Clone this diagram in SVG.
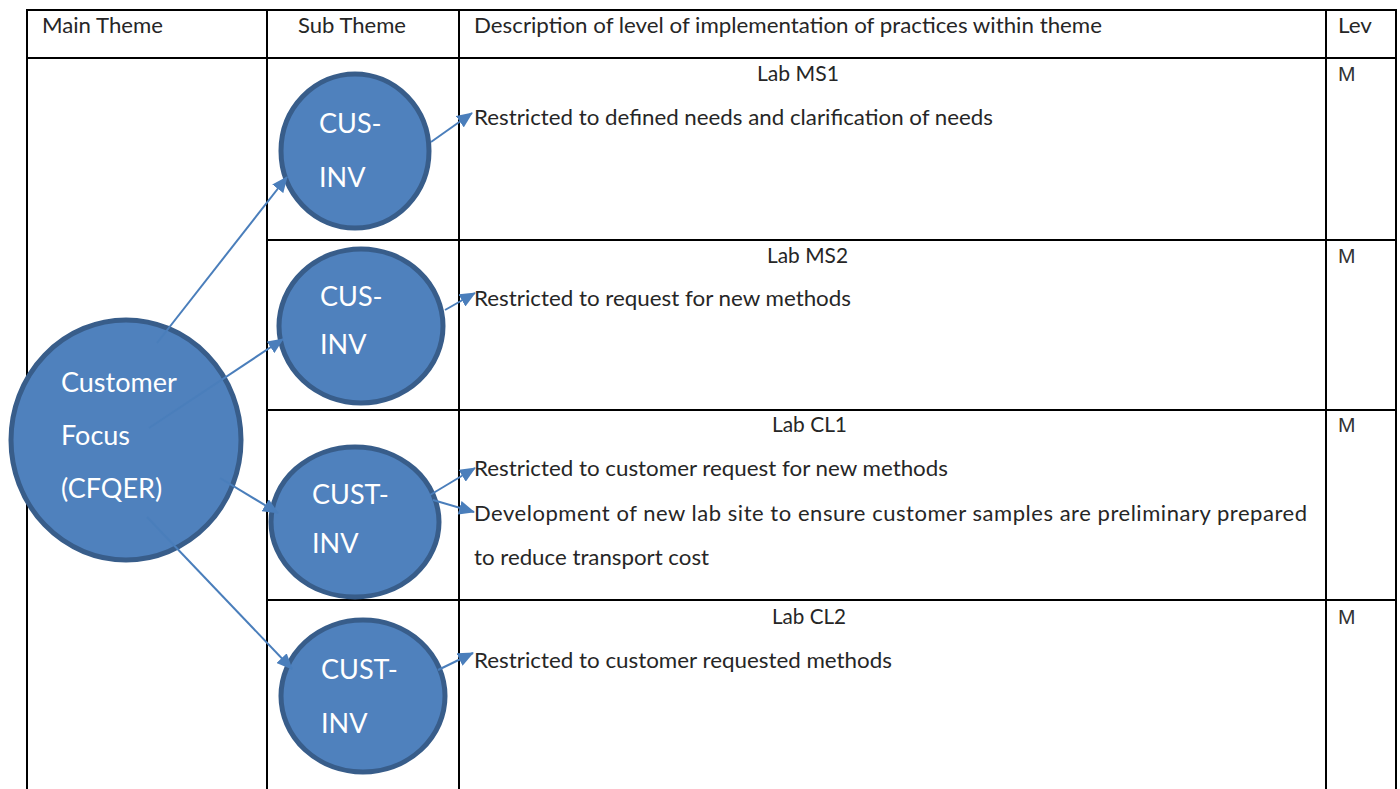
<svg xmlns="http://www.w3.org/2000/svg" width="1400" height="789" viewBox="0 0 1400 789">
  <style>
    .grid { stroke: #000; stroke-width: 2; fill: none; }
    .txt { font-family: Lato, "Open Sans", sans-serif; font-size: 22px; fill: #262626; }
    .lev { font-family: "Liberation Sans", Arial, sans-serif; font-size: 21px; fill: #333; }
    .node { fill: #4F81BD; stroke: #385D8A; stroke-width: 5; }
    .label { font-family: Lato, "Open Sans", sans-serif; font-size: 27px; fill: #fff; }
    .edge { stroke: #4A7EBB; stroke-width: 2; fill: none; marker-end: url(#arrow); }
  </style>
  <defs>
    <marker id="arrow" markerUnits="userSpaceOnUse" markerWidth="16" markerHeight="14" viewBox="0 0 16 14" refX="15" refY="7" orient="auto">
      <path d="M0,0 L16,7 L0,14 Z" fill="#4A7EBB"/>
    </marker>
  </defs>
  <rect width="1400" height="789" fill="#fff"/>

  <!-- table grid -->
  <g id="table">
    <line class="grid" x1="27" y1="10" x2="1396" y2="10"/>
    <line class="grid" x1="27" y1="58" x2="1396" y2="58"/>
    <line class="grid" x1="267" y1="240" x2="1396" y2="240"/>
    <line class="grid" x1="267" y1="410" x2="1396" y2="410"/>
    <line class="grid" x1="267" y1="600" x2="1396" y2="600"/>
    <line class="grid" x1="27" y1="9" x2="27" y2="789"/>
    <line class="grid" x1="267" y1="9" x2="267" y2="789"/>
    <line class="grid" x1="459" y1="9" x2="459" y2="789"/>
    <line class="grid" x1="1326" y1="9" x2="1326" y2="789"/>
    <line class="grid" x1="1396" y1="9" x2="1396" y2="789"/>
  </g>

  <!-- header row -->
  <g id="header">
    <text class="txt" x="42" y="33" textLength="121" lengthAdjust="spacingAndGlyphs">Main Theme</text>
    <text class="txt" x="298" y="33" textLength="108" lengthAdjust="spacingAndGlyphs">Sub Theme</text>
    <text class="txt" x="474" y="33" textLength="628" lengthAdjust="spacingAndGlyphs">Description of level of implementation of practices within theme</text>
    <text class="txt" x="1338" y="33" textLength="34" lengthAdjust="spacingAndGlyphs">Lev</text>
  </g>

  <!-- descriptions -->
  <g id="desc-ms1">
    <text class="txt" x="757" y="81" textLength="82" lengthAdjust="spacingAndGlyphs">Lab MS1</text>
    <text class="txt" x="474" y="125" textLength="519" lengthAdjust="spacingAndGlyphs">Restricted to defined needs and clarification of needs</text>
    <text class="lev" x="1338" y="81">M</text>
  </g>
  <g id="desc-ms2">
    <text class="txt" x="767" y="263" textLength="81" lengthAdjust="spacingAndGlyphs">Lab MS2</text>
    <text class="txt" x="474" y="306" textLength="377" lengthAdjust="spacingAndGlyphs">Restricted to request for new methods</text>
    <text class="lev" x="1338" y="263">M</text>
  </g>
  <g id="desc-cl1">
    <text class="txt" x="772" y="432" textLength="75" lengthAdjust="spacingAndGlyphs">Lab CL1</text>
    <text class="txt" x="474" y="476" textLength="474" lengthAdjust="spacingAndGlyphs">Restricted to customer request for new methods</text>
    <text class="txt" x="474" y="521" textLength="833" lengthAdjust="spacing">Development of new lab site to ensure customer samples are preliminary prepared</text>
    <text class="txt" x="474" y="565" textLength="235" lengthAdjust="spacingAndGlyphs">to reduce transport cost</text>
    <text class="lev" x="1338" y="432">M</text>
  </g>
  <g id="desc-cl2">
    <text class="txt" x="772" y="624" textLength="74" lengthAdjust="spacingAndGlyphs">Lab CL2</text>
    <text class="txt" x="474" y="668" textLength="418" lengthAdjust="spacingAndGlyphs">Restricted to customer requested methods</text>
    <text class="lev" x="1338" y="624">M</text>
  </g>

  <!-- theme nodes -->
  <g id="customer-focus">
    <ellipse class="node" cx="126" cy="440" rx="115" ry="120"/>
    <text class="label" x="61" y="392">Customer</text>
    <text class="label" x="61" y="445">Focus</text>
    <text class="label" x="61" y="498">(CFQER)</text>
  </g>
  <g id="cus-inv-1">
    <ellipse class="node" cx="355" cy="151" rx="74" ry="77"/>
    <text class="label" x="319" y="133">CUS-</text>
    <text class="label" x="319" y="187">INV</text>
  </g>
  <g id="cus-inv-2">
    <ellipse class="node" cx="361" cy="326" rx="82" ry="77"/>
    <text class="label" x="320" y="306">CUS-</text>
    <text class="label" x="320" y="354">INV</text>
  </g>
  <g id="cust-inv-3">
    <ellipse class="node" cx="355" cy="522" rx="84" ry="75"/>
    <text class="label" x="312" y="504">CUST-</text>
    <text class="label" x="312" y="553">INV</text>
  </g>
  <g id="cust-inv-4">
    <ellipse class="node" cx="363" cy="696" rx="82" ry="76"/>
    <text class="label" x="321" y="679">CUST-</text>
    <text class="label" x="321" y="733">INV</text>
  </g>

  <!-- connectors -->
  <g id="connectors">
    <line class="edge" x1="157" y1="343" x2="287" y2="177"/>
    <line class="edge" x1="149" y1="428" x2="283" y2="339"/>
    <line class="edge" x1="220" y1="478" x2="278" y2="513"/>
    <line class="edge" x1="147" y1="517" x2="292" y2="669"/>
    <line class="edge" x1="431" y1="142" x2="472" y2="113"/>
    <line class="edge" x1="445" y1="310" x2="475" y2="293"/>
    <line class="edge" x1="430" y1="495" x2="475" y2="468"/>
    <line class="edge" x1="433" y1="500" x2="474" y2="512"/>
    <line class="edge" x1="438" y1="670" x2="473" y2="653"/>
  </g>
</svg>
